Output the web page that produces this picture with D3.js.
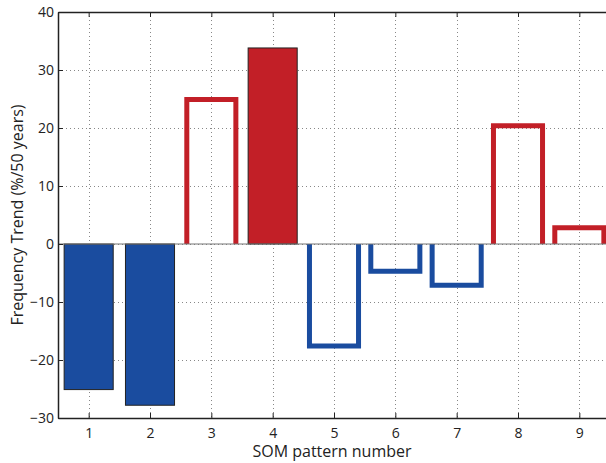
<!DOCTYPE html>
<html>
<head>
<meta charset="utf-8">
<script src="https://cdn.jsdelivr.net/npm/d3@7"></script>
<style>
  body { margin: 0; background: #fff; }
  text { font-family: "Open Sans", "Noto Sans", sans-serif; fill: #222; }
</style>
</head>
<body>
<script>
const patterns = [1, 2, 3, 4, 5, 6, 7, 8, 9];
const trends = [-25.1, -27.8, 24.9, 33.8, -17.6, -4.7, -7.1, 20.4, 2.8];
// filled = significant, hollow = not
const filled = [true, true, false, true, false, false, false, false, false];
const yTicks = [-30, -20, -10, 0, 10, 20, 30, 40];

const width = 606;
const height = 463;
const plotLeft = 58, plotTop = 12, plotBottom = 418, plotRight = 610;

const red = "#c21f27";
const blue = "#1a4c9f";

const svg = d3.select("body").append("svg")
  .attr("width", width)
  .attr("height", height);

const x = d3.scaleLinear().domain([0.5, 9.5]).range([plotLeft, plotRight]);
const y = d3.scaleLinear().domain([-30, 40]).range([plotBottom, plotTop]);
const barW = (x(1) - x(0)) * 0.8;

// grid
const grid = svg.append("g").attr("stroke", "#888").attr("stroke-width", 1)
  .attr("stroke-dasharray", "1,3");
grid.selectAll(".gx").data(patterns).join("line")
  .attr("x1", d => Math.round(x(d)) + 0.5).attr("x2", d => Math.round(x(d)) + 0.5)
  .attr("y1", plotTop).attr("y2", plotBottom);
grid.selectAll(".gy").data(yTicks.slice(1, -1)).join("line")
  .attr("y1", d => Math.round(y(d)) + 0.5).attr("y2", d => Math.round(y(d)) + 0.5)
  .attr("x1", plotLeft).attr("x2", width);

const data = patterns.map((p, i) => ({ p, v: trends[i], f: filled[i] }));

// filled bars
svg.selectAll(".fbar").data(data.filter(d => d.f)).join("rect")
  .attr("x", d => x(d.p) - barW / 2)
  .attr("width", barW)
  .attr("y", d => y(Math.max(0, d.v)))
  .attr("height", d => Math.abs(y(d.v) - y(0)))
  .attr("fill", d => d.v > 0 ? red : blue)
  .attr("stroke", "#222")
  .attr("stroke-width", 1);

// hollow bars (three sides)
svg.selectAll(".hbar").data(data.filter(d => !d.f)).join("path")
  .attr("d", d => {
    const x0 = x(d.p) - barW / 2, x1 = x(d.p) + barW / 2;
    return `M${x0},${y(0)}V${y(d.v)}H${x1}V${y(0)}`;
  })
  .attr("fill", "none")
  .attr("stroke", d => d.v > 0 ? red : blue)
  .attr("stroke-width", 5)
  .attr("stroke-linejoin", "miter");

// baseline
svg.append("line")
  .attr("x1", plotLeft).attr("x2", width)
  .attr("y1", y(0)).attr("y2", y(0))
  .attr("stroke", "#777").attr("stroke-width", 1.2);

// axes
const xAxis = svg.append("g").attr("transform", `translate(0,${plotBottom})`)
  .call(d3.axisBottom(x).tickValues(patterns).tickSizeInner(-5).tickSizeOuter(0).tickPadding(10));
const xTop = svg.append("g").attr("transform", `translate(0,${plotTop})`)
  .call(d3.axisTop(x).tickValues(patterns).tickSizeInner(-5).tickSizeOuter(0).tickFormat(""));
const yAxis = svg.append("g").attr("transform", `translate(${plotLeft},0)`)
  .call(d3.axisLeft(y).tickValues(yTicks).tickSizeInner(-5).tickSizeOuter(0).tickPadding(4)
    .tickFormat(d => d < 0 ? "\u2212" + Math.abs(d) : d));

[xAxis, xTop, yAxis].forEach(g => {
  g.select(".domain").attr("stroke", "#222").attr("stroke-width", 1.5);
  g.selectAll(".tick line").attr("stroke", "#222").attr("stroke-width", 1);
  g.selectAll("text").attr("font-size", 14).attr("fill", "#222")
    .style("font-family", "'Open Sans', 'Noto Sans', sans-serif");
});
xAxis.selectAll(".tick text").attr("dy", "0.71em");

// labels
svg.append("text")
  .attr("x", 332).attr("y", 457)
  .attr("text-anchor", "middle")
  .attr("font-size", 16)
  .text("SOM pattern number");

svg.append("text")
  .attr("transform", `translate(23,${(plotTop + plotBottom) / 2}) rotate(-90)`)
  .attr("text-anchor", "middle")
  .attr("font-size", 16)
  .text("Frequency Trend (%/50 years)");
</script>
</body>
</html>
